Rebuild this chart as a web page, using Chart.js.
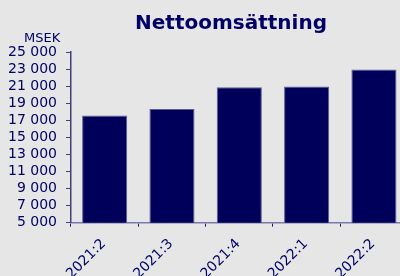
<!DOCTYPE html>
<html>
<head>
<meta charset="utf-8">
<script src="https://cdn.jsdelivr.net/npm/chart.js@4/dist/chart.umd.min.js"></script>
<style>
  html, body { margin: 0; padding: 0; background: #e6e6e6; overflow: hidden; }
  #wrap { width: 410px; height: 276px; }
</style>
</head>
<body>
<div id="wrap"><canvas id="c" width="410" height="276"></canvas></div>
<script>
const categories = ['2021:2', '2021:3', '2021:4', '2022:1', '2022:2'];
const netSales = [17550, 18330, 20870, 20950, 22950];
const titleText = 'Nettoomsättning';
const unitText = 'MSEK';
const yMin = 5000, yMax = 25000, yStep = 2000;

const navy = '#000066';
const font = 'DejaVu Sans';

const labelsPlugin = {
  id: 'labels',
  afterDraw(chart) {
    const ctx = chart.ctx;
    ctx.save();
    ctx.fillStyle = navy;
    ctx.textBaseline = 'alphabetic';
    ctx.font = 'bold 20px "' + font + '"';
    ctx.textAlign = 'center';
    ctx.fillText(titleText, 231, 28.5);
    ctx.font = '13px "' + font + '"';
    ctx.textAlign = 'left';
    ctx.fillText(unitText, 24, 41.5);
    ctx.restore();
  }
};

new Chart(document.getElementById('c'), {
  type: 'bar',
  data: {
    labels: categories,
    datasets: [{
      data: netSales,
      backgroundColor: '#00005a',
      borderColor: '#5c5c94',
      borderWidth: 1,
      barPercentage: 0.67,
      categoryPercentage: 1.0
    }]
  },
  options: {
    responsive: false,
    animation: false,
    layout: { padding: { top: 52, right: 2.4, left: 0, bottom: 0 } },
    plugins: { legend: { display: false }, tooltip: { enabled: false } },
    scales: {
      x: {
        offset: true,
        grid: {
          offset: true,
          drawOnChartArea: false,
          drawTicks: true,
          tickLength: 4,
          color: '#1a1a66'
        },
        border: { display: true, color: '#7a7aaa', width: 1.5 },
        ticks: {
          color: navy,
          font: { family: font, size: 14 },
          maxRotation: 45,
          minRotation: 45,
          padding: 9,
          labelOffset: -1
        },
        afterFit(scale) { scale.height = 276 - 222.7; }
      },
      y: {
        min: yMin,
        max: yMax,
        grid: {
          drawOnChartArea: false,
          drawTicks: true,
          tickLength: 5,
          color: '#40407a'
        },
        border: { display: true, color: '#40407a', width: 1.5 },
        ticks: {
          stepSize: yStep,
          autoSkip: false,
          color: navy,
          font: { family: font, size: 14 },
          padding: 9,
          callback: (v) => String(v).replace(/\B(?=(\d{3})+(?!\d))/g, ' ')
        },
        afterFit(scale) { scale.width = 71; }
      }
    }
  },
  plugins: [labelsPlugin]
});
</script>
</body>
</html>
